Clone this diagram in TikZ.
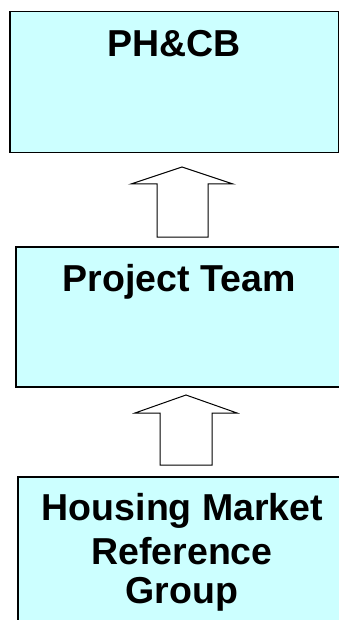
\documentclass[tikz,border=0pt]{standalone}
\usepackage{fontspec}
\setmainfont{Liberation Sans}
\begin{document}
\begin{tikzpicture}[x=1pt,y=-1pt,
  box/.style={draw=black,line width=1.5pt,inner sep=0pt,anchor=north west},
  lbl/.style={font=\fontsize{37.5}{42}\selectfont\bfseries,anchor=base,inner sep=0pt,align=center},
  blockarrow/.style={draw=black,line width=1pt,fill=white,line join=miter}]
\useasboundingbox (0,0) rectangle (339,620);
\clip (0,0) rectangle (339,620);
\fill[white] (0,0) rectangle (339,620);
\definecolor{boxfill}{HTML}{CCFFFF}
\tikzset{box/.append style={fill=boxfill}}
% boxes
\node[box,minimum width=329pt,minimum height=141pt] (top) at (9,11) {};
\node[box,minimum width=340pt,minimum height=140pt] (mid) at (15,246) {};
\node[box,minimum width=340pt,minimum height=170pt] (bot) at (17,476) {};
% labels
\node[lbl] (toptext) at (174,57) {PH\&CB};
\node[lbl] (midtext) at (179,291) {Project Team};
\node[lbl] (bottext1) at (182.5,520) {Housing Market};
\node[lbl] (bottext2) at (182,564) {Reference};
\node[lbl] (bottext3) at (182,603) {Group};
% block arrows
\draw[blockarrow] (157,237) -- (157,184) -- (131,184) -- (182,167) -- (233,184) -- (208,184) -- (208,237) -- cycle;
\draw[blockarrow] (160,465) -- (160,413) -- (135,413) -- (186,395) -- (237,413) -- (212,413) -- (212,465) -- cycle;
\end{tikzpicture}
\end{document}
